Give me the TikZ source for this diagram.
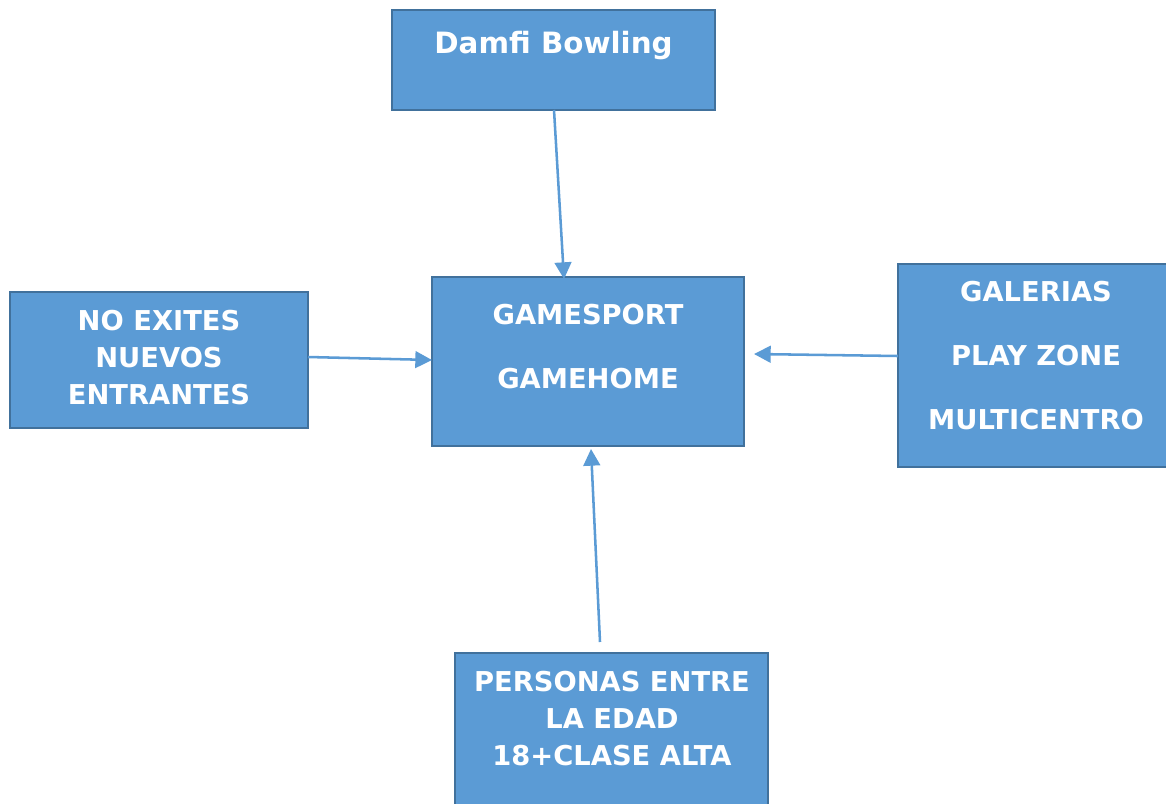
\documentclass[tikz,border=0pt]{standalone}
\usepackage{fontspec}
\setmainfont{DejaVu Sans}
\usetikzlibrary{arrows.meta,calc}
\definecolor{boxfill}{HTML}{5B9BD5}
\definecolor{boxline}{HTML}{41719C}
\definecolor{arrowcol}{HTML}{5B9BD5}
\tikzset{
  box/.style={draw=boxline, line width=1.8pt, fill=boxfill, rectangle, inner sep=0pt},
  txt/.style={text=white, font=\bfseries\fontsize{20.5}{27.75}\selectfont, align=center, inner sep=0pt},
  txtwide/.style={text=white, font=\bfseries\fontsize{20.5}{48}\selectfont, align=center, inner sep=0pt},
  conn/.style={draw=arrowcol, line width=1.9pt, -{Triangle[length=12.5pt,width=12.5pt]}}
}
\begin{document}
\begin{tikzpicture}[x=0.75pt,y=-0.75pt]
\useasboundingbox (0,0) rectangle (1166,803);
\clip (0,0) rectangle (1166,803);
\node[box, minimum width=242.25pt, minimum height=75pt] (top) at (553.5,60)
  {};
\node[txt, font=\bfseries\fontsize{22}{27}\selectfont] (toptxt) at (553.5,46) {Damfi Bowling};
\node[box, minimum width=234pt, minimum height=126.75pt] (mid) at (588,361.5) {};
\node[txtwide] (midtxt) at (588,347) {GAMESPORT\\GAMEHOME};
\node[box, minimum width=223.5pt, minimum height=102pt] (left) at (159,360) {};
\node[txt] (lefttxt) at (159,358) {NO EXITES\\NUEVOS\\ENTRANTES};
\node[box, minimum width=207pt, minimum height=152.25pt] (right) at (1036,365.5) {};
\node[txtwide] (righttxt) at (1036,356) {GALERIAS\\PLAY ZONE\\MULTICENTRO};
\node[box, minimum width=234.75pt, minimum height=127.5pt] (bottom) at (611.5,738) {};
\node[txt] (bottomtxt) at (612,719) {PERSONAS ENTRE\\LA EDAD\\18+CLASE ALTA};
\coordinate (a1s) at (554,110);
\coordinate (a1e) at (564,279);
\coordinate (a2s) at (308,357);
\coordinate (a2e) at (432,360);
\coordinate (a3s) at (898,356);
\coordinate (a3e) at (754,354);
\coordinate (a4s) at (600,642);
\coordinate (a4e) at (591,449);
\draw[conn] (a1s) -- (a1e);
\draw[conn] (a2s) -- (a2e);
\draw[conn] (a3s) -- (a3e);
\draw[conn] (a4s) -- (a4e);
\end{tikzpicture}
\end{document}
